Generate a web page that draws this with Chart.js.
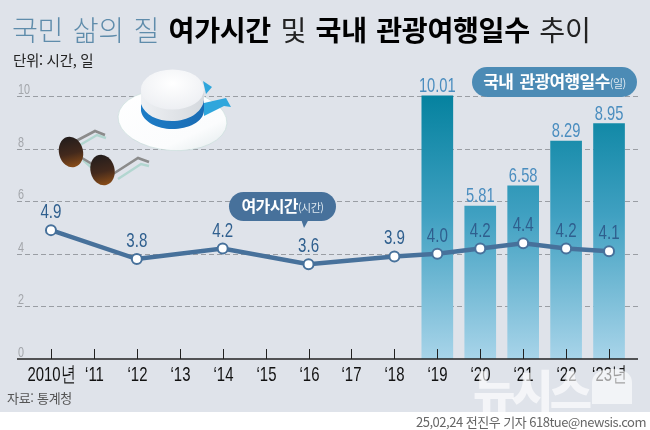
<!DOCTYPE html>
<html lang="ko">
<head>
<meta charset="utf-8">
<title>여가시간 및 국내 관광여행일수 추이</title>
<script src="https://cdn.jsdelivr.net/npm/chart.js@4"></script>
<style>
  html, body { margin: 0; padding: 0; background: #fff; }
  #page { position: relative; width: 650px; height: 430px; overflow: hidden; background: #fff; font-family: "Noto Sans CJK KR", sans-serif; }
  #panel { position: absolute; left: 0; top: 0; width: 650px; height: 412px; background: #dfe3ea; }
  #chart { position: absolute; left: 0; top: 0; width: 650px; height: 430px; }
  .abs { position: absolute; white-space: nowrap; }
  #title { left: 12px; top: 9px; font-size: 28.2px; line-height: 40px; letter-spacing: -0.35px; word-spacing: 2px; color: #111; }
  #title .soft { color: #5f8cab; font-weight: 300; }
  #title b { font-weight: 700; color: #000; }
  #title .thin { font-weight: 400; color: #222; }
  #unit { left: 13px; top: 50px; font-size: 14.5px; line-height: 20px; color: #222; letter-spacing: -0.3px; }
  #source { left: 7px; top: 389px; font-size: 13px; line-height: 18px; color: #555; letter-spacing: -0.3px; }
  #credit { right: 4px; top: 413px; font-size: 13px; line-height: 18px; color: #666; letter-spacing: -0.5px; }
  .pill { border-radius: 15px; color: #fff; font-weight: 700; text-align: center; }
  .pill small { font-size: 11px; font-weight: 400; color: #dde8f0; letter-spacing: -0.5px; }
  #pillLine { left: 229px; top: 192px; width: 107px; height: 29px; line-height: 27px; font-size: 16px; background: #47719b; letter-spacing: -0.6px; }
  #pillLine:after { content: ""; position: absolute; left: 72px; top: 27px; border-left: 3px solid transparent; border-right: 5px solid transparent; border-top: 9px solid #47719b; }
  #pillBar { left: 472px; top: 67px; width: 165px; height: 30px; line-height: 28px; font-size: 17px; background: #4c8bb5; letter-spacing: -0.6px; word-spacing: 2px; }
  #stamp { left: 473px; top: 361px; font-size: 46px; line-height: 54px; font-weight: 900; color: rgba(255,255,255,.65); letter-spacing: -4px; }
  #art, #stampBox { position: absolute; left: 0; top: 0; }
</style>
</head>
<body>
<div id="page">
  <div id="panel"></div>
  <canvas id="chart" width="650" height="430"></canvas>

  <svg id="art" width="650" height="430">
    <defs>
      <linearGradient id="lens" x1="0" y1="0" x2="0" y2="1">
        <stop offset="0" stop-color="#231d1c"/><stop offset=".55" stop-color="#43291c"/><stop offset="1" stop-color="#8a4d18"/>
      </linearGradient>
      <linearGradient id="brim" x1="0" y1="0" x2="1" y2="1">
        <stop offset="0" stop-color="#ffffff"/><stop offset=".7" stop-color="#fbfcfd"/><stop offset="1" stop-color="#dfe8ea"/>
      </linearGradient>
      <linearGradient id="crown" x1="0" y1="0" x2="1" y2="0">
        <stop offset="0" stop-color="#eef0f3"/><stop offset="1" stop-color="#d5d9de"/>
      </linearGradient>
      <linearGradient id="band" x1="0" y1="0" x2="1" y2="0">
        <stop offset="0" stop-color="#1d7cc6"/><stop offset="1" stop-color="#1a6cb4"/>
      </linearGradient>
      <radialGradient id="top" cx=".5" cy=".35" r=".7">
        <stop offset="0" stop-color="#ffffff"/><stop offset="1" stop-color="#eceef2"/>
      </radialGradient>
    </defs>
    <!-- sunglasses -->
    <path d="M80 145 L97 135 L106 138 M118 179 L141 164 L149 166" fill="none" stroke="#b2d6d0" stroke-width="2.5"/>
    <path d="M83 160 L92 168" fill="none" stroke="#b2d6d0" stroke-width="2.5"/>
    <path d="M76 141 L95 131 L105 135 M113 174 L138 158 L149 162 M82 158 L92 164" fill="none" stroke="#8b8b8b" stroke-width="2.6"/>
    <ellipse cx="71" cy="152" rx="12" ry="15.500" transform="rotate(-14 71 152)" fill="url(#lens)"/>
    <ellipse cx="102.500" cy="170" rx="12" ry="15.500" transform="rotate(-14 102.500 170)" fill="url(#lens)"/>
    <!-- hat -->
    <path d="M203 81 L212 87 L206 94 Z" fill="#2fa6dc"/>
    <ellipse cx="172.500" cy="120" rx="54.500" ry="30.500" transform="rotate(4 172.500 120)" fill="url(#brim)" stroke="#c4dcd8" stroke-width=".6"/>
    <path d="M204 103 L226 98 L231 107 L224 106 L204 116 Z" fill="#2fa6dc"/>
    <path d="M141 88 L141 106 C141 120 158 129 172 129 C188 129 204 121 204 104 L204 88 Z" fill="url(#crown)"/>
    <path d="M141 104 L141 111 C143 122 158 129 172 129 C188 129 204 122 204 110 L204 100 C202 113 188 121 172 121 C157 121 145 115 141 104 Z" fill="url(#band)"/>
    <ellipse cx="172.500" cy="89.500" rx="31.500" ry="20" fill="url(#top)"/>
  </svg>

  <div class="abs" id="title"><span class="soft">국민 삶의 질</span> <b>여가시간</b> <span class="thin">및</span> <b>국내 관광여행일수</b> <span class="thin">추이</span></div>
  <div class="abs" id="unit">단위: 시간, 일</div>
  <div class="abs pill" id="pillLine">여가시간<small>(시간)</small></div>
  <div class="abs pill" id="pillBar">국내 관광여행일수<small>(일)</small></div>
  <div class="abs" id="source">자료: 통계청</div>
  <div class="abs" id="stamp">뉴시스</div>
  <svg id="stampBox" width="650" height="430"><path d="M592 404 V383 C592 372 603 369 612 369 C622 369 632 372 632 383 V404 Z" fill="rgba(255,255,255,.6)"/></svg>
  <div class="abs" id="credit">25,02,24 전진우 기자 618tue@newsis.com</div>
</div>

<script>
const categories = ["2010년", "‘11", "‘12", "‘13", "‘14", "‘15", "‘16", "‘17", "‘18", "‘19", "‘20", "‘21", "‘22", "‘23년"];
const leisureHours = [4.9, null, 3.8, null, 4.2, null, 3.6, null, 3.9, 4.0, 4.2, 4.4, 4.2, 4.1];
const travelDays = [null, null, null, null, null, null, null, null, null, 10.01, 5.81, 6.58, 8.29, 8.95];
const yTickStep = 2;
const yMax = 12;

const SANS = '"Liberation Sans", sans-serif';

// the reference digits are condensed and no narrow face is installed, so squeeze them
const squeezedText = (ctx, text, x, y, squeeze) => {
  ctx.save();
  ctx.translate(x, y);
  ctx.scale(squeeze, 1);
  ctx.fillText(text, 0, 0);
  ctx.restore();
};

// gridlines, baseline and inward ticks run wider than the plot area
const backdrop = {
  id: "backdrop",
  beforeDatasetsDraw(chart) {
    const { ctx, scales: { y } } = chart;
    const left = 17, right = 639;
    ctx.save();
    ctx.font = `15px ${SANS}`;
    ctx.textAlign = "left";
    y.ticks.forEach((t) => {
      if (t.value > 10) return;
      const py = Math.round(y.getPixelForValue(t.value)) + 0.5;
      ctx.fillStyle = "#a3a6ab";
      squeezedText(ctx, String(t.value), 18, py - 3, 0.72);
      if (t.value === 0) return;
      ctx.strokeStyle = "#9a9ea4";
      ctx.lineWidth = 1;
      ctx.setLineDash([5, 3]);
      ctx.beginPath();
      ctx.moveTo(left, py);
      ctx.lineTo(right, py);
      ctx.stroke();
      ctx.setLineDash([]);
    });
    ctx.restore();
  },
  afterDatasetsDraw(chart) {
    const { ctx, scales: { x, y } } = chart;
    const base = y.getPixelForValue(0);
    ctx.save();
    ctx.strokeStyle = "#222";
    ctx.lineWidth = 1;
    ctx.font = `21px ${SANS}`;
    ctx.textAlign = "center";
    ctx.fillStyle = "#111";
    categories.forEach((c, i) => {
      const px = Math.round(x.getPixelForValue(i)) + 0.5;
      ctx.beginPath();
      ctx.moveTo(px, base - 10);
      ctx.lineTo(px, base);
      ctx.stroke();
      squeezedText(ctx, c, px, base + 22, 0.71);
    });
    ctx.lineWidth = 1.6;
    ctx.beginPath();
    ctx.moveTo(17, base);
    ctx.lineTo(638, base);
    ctx.stroke();
    ctx.restore();
  },
};

const valueLabels = {
  id: "valueLabels",
  afterDraw(chart) {
    const { ctx } = chart;
    ctx.save();
    ctx.textAlign = "center";
    ctx.textBaseline = "alphabetic";
    ctx.font = `21px ${SANS}`;
    chart.getDatasetMeta(0).data.forEach((el, i) => {
      if (travelDays[i] == null) return;
      ctx.fillStyle = "#4a8dbf";
      squeezedText(ctx, travelDays[i].toFixed(2), el.x, el.y - 4, 0.7);
    });
    chart.getDatasetMeta(1).data.forEach((el, i) => {
      if (leisureHours[i] == null) return;
      ctx.fillStyle = "#2f5f8e";
      squeezedText(ctx, leisureHours[i].toFixed(1), el.x, el.y - 12, 0.72);
    });
    ctx.restore();
  },
};

const canvas = document.getElementById("chart");
const barFill = (context) => {
  const { ctx, chartArea, scales } = context.chart;
  if (!chartArea) return "#3aa0c0";
  const g = ctx.createLinearGradient(0, scales.y.getPixelForValue(10.01), 0, scales.y.getPixelForValue(0));
  g.addColorStop(0, "#05829f");
  g.addColorStop(0.45, "#3fa0c1");
  g.addColorStop(1, "#a8d4e9");
  return g;
};

new Chart(canvas, {
  data: {
    labels: categories,
    datasets: [
      {
        type: "bar",
        label: "국내 관광여행일수",
        data: travelDays,
        backgroundColor: barFill,
        barThickness: 31,
        order: 2,
      },
      {
        type: "line",
        label: "여가시간",
        data: leisureHours,
        spanGaps: true,
        borderColor: "#47719b",
        borderWidth: 4.5,
        tension: 0,
        pointRadius: 5,
        pointBorderWidth: 2,
        pointBackgroundColor: "#fff",
        pointBorderColor: "#47719b",
        order: 1,
      },
    ],
  },
  options: {
    responsive: false,
    animation: false,
    devicePixelRatio: 1,
    layout: { padding: { top: 43.4, right: 19.5, left: 0, bottom: 0 } },
    plugins: { legend: { display: false }, tooltip: { enabled: false } },
    scales: {
      x: {
        offset: true,
        grid: { display: false },
        border: { display: false },
        afterFit: (scale) => { scale.height = 71; },
        ticks: { display: false, autoSkip: false },
      },
      y: {
        min: 0,
        max: yMax,
        grid: { display: false },
        border: { display: false },
        afterFit: (scale) => { scale.width = 29.5; },
        ticks: { display: false, stepSize: yTickStep },
      },
    },
  },
  plugins: [backdrop, valueLabels],
});
</script>
</body>
</html>
